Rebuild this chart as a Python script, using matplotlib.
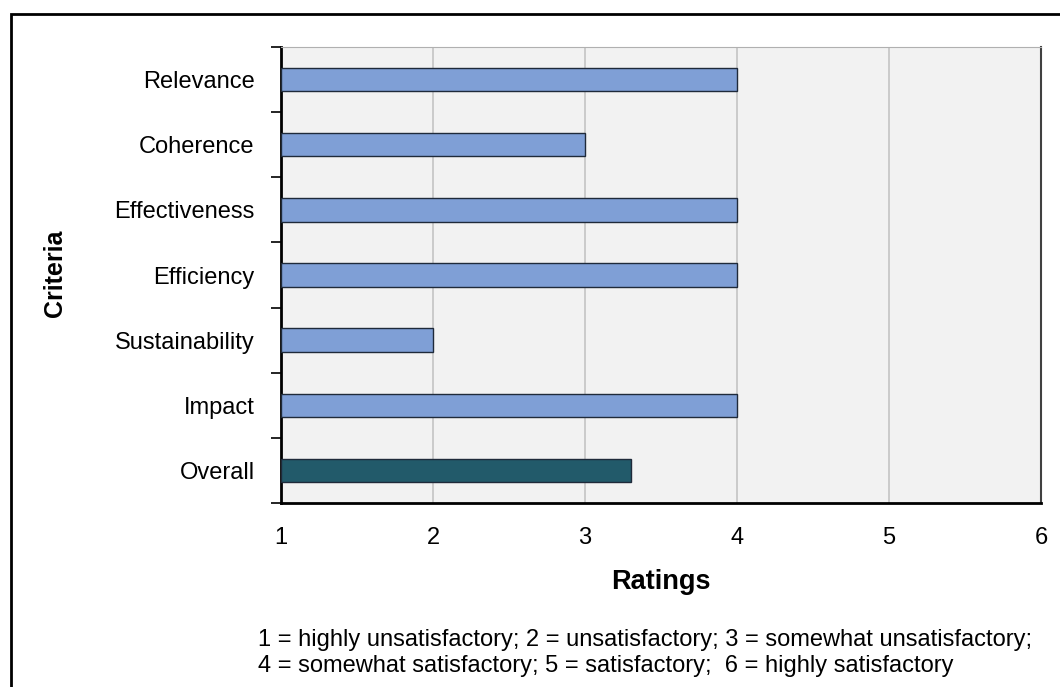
import matplotlib

matplotlib.use("Agg")
import matplotlib.pyplot as plt
from matplotlib.patches import Rectangle

plt.rcParams["font.family"] = ["Liberation Sans", "DejaVu Sans"]

# ── Dados ────────────────────────────────────────────────────────────────
criterios = ["Relevance", "Coherence", "Effectiveness", "Efficiency",
             "Sustainability", "Impact", "Overall"]
notas = [4, 3, 4, 4, 2, 4, 3.3]
ticks_x = [1, 2, 3, 4, 5, 6]
legenda = ("1 = highly unsatisfactory; 2 = unsatisfactory; 3 = somewhat unsatisfactory;\n"
           "4 = somewhat satisfactory; 5 = satisfactory;  6 = highly satisfactory")

AZUL = "#7f9fd6"
PETROLEO = "#225a6a"
FUNDO = "#f2f2f2"
GRADE = "#c4c4c4"

fig = plt.figure(figsize=(10.6, 6.87), dpi=100, facecolor="white")
ax = fig.add_axes([281 / 1060, 1 - 503 / 687, 760 / 1060, 456 / 687])
ax.set_facecolor(FUNDO)

n = len(criterios)
pos = list(range(n))
cores = [AZUL] * (n - 1) + [PETROLEO]
ax.barh(pos, [v - 1 for v in notas], left=1, height=0.36, color=cores,
        edgecolor="#1f2a3a", linewidth=1.0, zorder=3)

ax.set_ylim(n - 0.5, -0.5)
ax.set_xlim(1, 6)
ax.set_xticks(ticks_x)
ax.set_xticklabels([str(t) for t in ticks_x], fontsize=17)
ax.tick_params(axis="x", length=0, pad=17)

# ticks maiores nas fronteiras, rotulos nos centros
ax.set_yticks([i - 0.5 for i in range(n + 1)])
ax.set_yticklabels([])
ax.set_yticks(pos, minor=True)
ax.set_yticklabels(criterios, minor=True, fontsize=17)
ax.tick_params(axis="y", which="major", length=7, width=1.2, direction="out")
ax.tick_params(axis="y", which="minor", length=0, pad=19)

ax.grid(axis="x", color=GRADE, linewidth=1.2, zorder=0)
ax.set_axisbelow(True)

ax.spines["left"].set_linewidth(2)
ax.spines["bottom"].set_linewidth(2)
ax.spines["top"].set_color("#b0b0b0")
ax.spines["right"].set_color("#404040")
ax.spines["right"].set_linewidth(1.5)

fig.text(55 / 1060, 1 - 273 / 687, "Criteria", rotation=90, fontsize=18,
         fontweight="bold", ha="center", va="center")
fig.text(661 / 1060, 1 - 582 / 687, "Ratings", fontsize=19.5,
         fontweight="bold", ha="center", va="center")
fig.text(258 / 1060, 1 - 653 / 687, legenda, fontsize=17, ha="left",
         va="center", linespacing=1.27)

# moldura externa (corta nas bordas direita/inferior)
fig.patches.append(Rectangle((11 / 1060, -0.2), 1.2, 1.2 - 14 / 687,
                             transform=fig.transFigure, fill=False,
                             edgecolor="black", linewidth=2))

fig.savefig("out.png", dpi=100, facecolor="white")
